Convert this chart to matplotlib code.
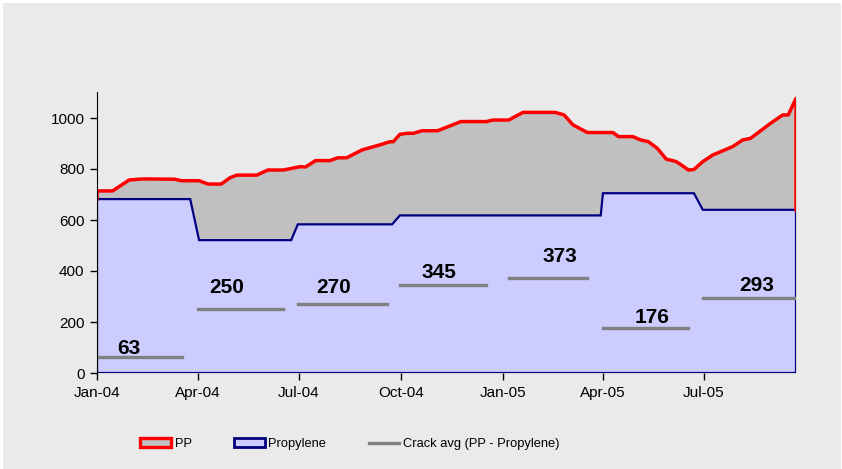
import numpy as np
import pandas as pd
import matplotlib
matplotlib.use("Agg")
import matplotlib.pyplot as plt
from matplotlib.patches import Patch, Rectangle
from matplotlib.lines import Line2D

plt.rcParams['font.family'] = ['Liberation Sans', 'DejaVu Sans']

# PP price (vertices of the line)
pp_dates = ["2004-01-01", "2004-01-15", "2004-01-30", "2004-02-11", "2004-03-11", "2004-03-17",
            "2004-04-02", "2004-04-10", "2004-04-22", "2004-04-30", "2004-05-06", "2004-05-24",
            "2004-05-27", "2004-06-03", "2004-06-17", "2004-07-02", "2004-07-07", "2004-07-16",
            "2004-07-29", "2004-08-05", "2004-08-13", "2004-08-27", "2004-09-10", "2004-09-21",
            "2004-09-24", "2004-09-30", "2004-10-07", "2004-10-12", "2004-10-20", "2004-11-03",
            "2004-11-24", "2004-12-17", "2004-12-23", "2005-01-06", "2005-01-19", "2005-02-17",
            "2005-02-25", "2005-03-05", "2005-03-18", "2005-04-10", "2005-04-15", "2005-04-28",
            "2005-05-05", "2005-05-12", "2005-05-20", "2005-05-28", "2005-06-06", "2005-06-12",
            "2005-06-17", "2005-06-22", "2005-06-30", "2005-07-09", "2005-07-27", "2005-08-05",
            "2005-08-12", "2005-08-30", "2005-09-10", "2005-09-15", "2005-09-22"]
pp_values = [714, 714, 757, 761, 760, 754,
             754, 741, 741, 766, 776, 776,
             782, 796, 796, 809, 808, 833,
             833, 844, 844, 875, 892, 907,
             907, 936, 940, 940, 950, 950,
             986, 986, 992, 992, 1022, 1022,
             1012, 973, 943, 943, 927, 927,
             914, 907, 881, 839, 829, 812,
             796, 798, 829, 855, 888, 914,
             920, 979, 1012, 1012, 1077]

# Propylene price
prop_dates = ["2004-01-01", "2004-03-25", "2004-04-02", "2004-06-24", "2004-06-30", "2004-09-23",
              "2004-09-30", "2005-03-30", "2005-04-01", "2005-06-22", "2005-06-30", "2005-09-22"]
prop_values = [682, 682, 521, 521, 583, 583,
               618, 618, 705, 705, 640, 640]

# quarterly crack average (PP - Propylene)
crack_start = ["2004-01-01", "2004-04-01", "2004-06-30", "2004-09-30", "2005-01-06", "2005-04-01", "2005-06-30"]
crack_end = ["2004-03-18", "2004-06-17", "2004-09-18", "2004-12-17", "2005-03-18", "2005-06-17", "2005-09-22"]
crack_values = [63, 250, 270, 345, 373, 176, 293]

# label placement for the crack numbers
label_dates = ["2004-01-30", "2004-04-27", "2004-08-01", "2004-11-04", "2005-02-21", "2005-05-15", "2005-08-18"]
label_y = [98, 337, 337, 396, 455, 216, 345]

tick_dates = ["2004-01-01", "2004-04-01", "2004-07-01", "2004-10-01", "2005-01-01", "2005-04-01", "2005-07-01"]
tick_labels = ["Jan-04", "Apr-04", "Jul-04", "Oct-04", "Jan-05", "Apr-05", "Jul-05"]

pp_x = pd.to_datetime(pp_dates)
prop_x = pd.to_datetime(prop_dates)

fig = plt.figure(figsize=(8.42, 4.69), dpi=100)
fig.patch.set_facecolor("white")
fig.patches.append(Rectangle((3 / 842, 0), 838 / 842, 466 / 469, transform=fig.transFigure,
                             facecolor="#EAEAEA", edgecolor="none", zorder=-10))

ax = fig.add_axes([97 / 842, 96 / 469, 699 / 842, 280.5 / 469])
ax.set_facecolor("none")

# PP area + line
ax.fill_between(pp_x, 0, pp_values, color="#C0C0C0", lw=0, zorder=1)
red_x = [pp_x[0]] + list(pp_x) + [pp_x[-1]]
red_y = [prop_values[0]] + pp_values + [prop_values[-1]]
ax.plot(red_x, red_y, color="#FF0000", lw=2.5, zorder=3, solid_joinstyle="round")

# Propylene area
poly_x = [prop_x[0]] + list(prop_x) + [prop_x[-1]]
poly_y = [0] + prop_values + [0]
ax.fill(poly_x, poly_y, facecolor="#CCCCFF", edgecolor="#000080", lw=1.6, zorder=2)

# crack averages
for s, e, v, ld, ly in zip(crack_start, crack_end, crack_values, label_dates, label_y):
    ax.plot(pd.to_datetime([s, e]), [v, v], color="#808080", lw=2.4, zorder=4)
    ax.text(pd.to_datetime(ld), ly, str(v), ha="center", va="center",
            fontsize=15, fontweight="bold", zorder=5)

ax.set_xlim(pp_x[0], pp_x[-1])
ax.set_ylim(0, 1100)
ax.set_yticks([0, 200, 400, 600, 800, 1000])
ax.set_xticks(pd.to_datetime(tick_dates))
ax.set_xticklabels(tick_labels)
ax.tick_params(axis="both", labelsize=11, length=5, width=1, direction="out", pad=4)
for side in ["top", "right"]:
    ax.spines[side].set_visible(False)
ax.spines["left"].set_zorder(6)
ax.spines["bottom"].set_visible(False)
ax.axhline(0, color="black", lw=1, zorder=0)

handles = [Patch(facecolor="#C0C0C0", edgecolor="#FF0000", lw=2.4),
           Patch(facecolor="#CCCCFF", edgecolor="#000080", lw=2),
           Line2D([0], [0], color="#808080", lw=2.4)]
fig.legend(handles, ["PP", "Propylene", "Crack avg (PP - Propylene)"],
           loc="center", bbox_to_anchor=(350 / 842, 25 / 469), ncol=3, frameon=False,
           fontsize=9.3, handlelength=2.35, handleheight=0.75, handletextpad=0.3,
           columnspacing=3.3)

fig.savefig("out.png", dpi=100, facecolor=fig.get_facecolor())
